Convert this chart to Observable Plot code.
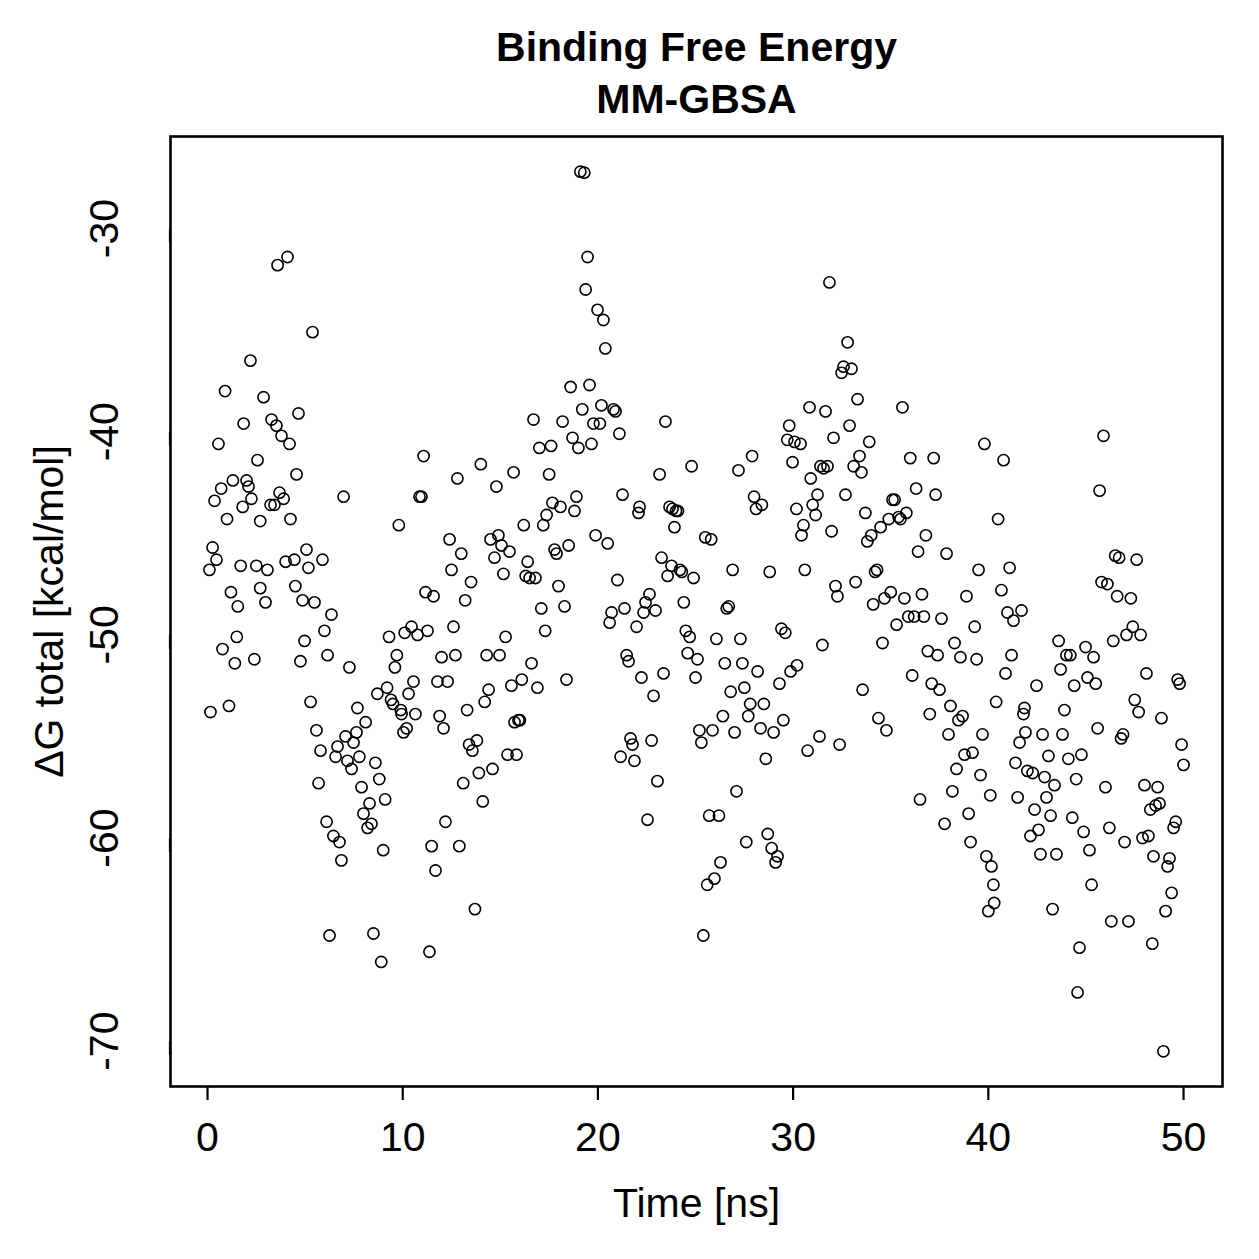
<!DOCTYPE html>
<html>
<head>
<meta charset="utf-8">
<script src="https://cdn.jsdelivr.net/npm/d3@7"></script>
<script src="https://cdn.jsdelivr.net/npm/@observablehq/plot@0.6"></script>
<style>
  html, body { margin: 0; padding: 0; background: #fff; }
  #chart svg { display: block; }
</style>
</head>
<body>
<div id="chart"></div>
<script>
// MM-GBSA binding free energy sampled along the trajectory
const titleLines = ["Binding Free Energy", "MM-GBSA"];
const xLabel = "Time [ns]";
const yLabel = "\u0394G total [kcal/mol]";
const xTicks = [0, 10, 20, 30, 40, 50];
const yTicks = [-30, -40, -50, -60, -70];

// simulation time (ns)
const time = [
  0.1, 0.26, 0.15, 0.36, 0.46, 0.56, 0.7, 0.77, 0.9, 1.0, 1.1, 1.2, 1.3, 1.4, 1.5, 1.55, 1.7, 1.8, 1.85, 2.0,
  2.1, 2.2, 2.25, 2.4, 2.5, 2.56, 2.7, 2.7, 2.87, 2.97, 3.07, 3.23, 3.28, 3.43, 3.53, 3.59, 3.69, 3.79, 3.9, 4.1,
  4.0, 4.2, 4.25, 4.45, 4.5, 4.56, 4.66, 4.76, 4.87, 4.97, 5.07, 5.17, 5.28, 5.38, 5.48, 5.58, 5.69, 5.79, 5.89, 5.99,
  6.1, 6.15, 6.25, 6.35, 6.45, 6.56, 6.66, 6.76, 6.86, 6.97, 7.07, 7.17, 7.27, 7.38, 7.48, 7.63, 7.68, 7.78, 7.89, 7.99,
  8.1, 8.2, 8.3, 8.4, 8.5, 8.6, 8.7, 8.8, 8.9, 9.0, 9.1, 9.2, 9.3, 9.4, 9.5, 9.6, 9.7, 9.8, 9.9, 9.94,
  10.04, 10.1, 10.2, 10.3, 10.45, 10.55, 10.65, 10.76, 10.86, 10.96, 11.07, 11.17, 11.27, 11.37, 11.48, 11.58, 11.68, 11.78, 11.89, 11.99,
  12.09, 12.19, 12.3, 12.4, 12.5, 12.6, 12.7, 12.8, 12.9, 13.0, 13.1, 13.2, 13.3, 13.4, 13.5, 13.57, 13.7, 13.8, 13.9, 14.0,
  14.1, 14.2, 14.3, 14.4, 14.5, 14.6, 14.7, 14.8, 14.9, 14.96, 15.06, 15.16, 15.27, 15.37, 15.47, 15.57, 15.68, 15.73, 15.83, 15.93,
  16.0, 16.1, 16.2, 16.3, 16.4, 16.5, 16.6, 16.7, 16.8, 16.9, 17.0, 17.1, 17.2, 17.3, 17.37, 17.5, 17.6, 17.67, 17.78, 17.88,
  17.98, 18.08, 18.19, 18.29, 18.39, 18.5, 18.6, 18.7, 18.8, 18.9, 19.0, 19.1, 19.2, 19.3, 19.37, 19.47, 19.57, 19.67, 19.77, 19.88,
  19.98, 20.1, 20.18, 20.28, 20.38, 20.5, 20.6, 20.7, 20.8, 20.9, 21.0, 21.1, 21.16, 21.26, 21.36, 21.47, 21.57, 21.67, 21.77, 21.87,
  21.98, 22.08, 22.13, 22.23, 22.34, 22.44, 22.54, 22.64, 22.75, 22.85, 22.95, 23.05, 23.16, 23.26, 23.36, 23.46, 23.57, 23.67, 23.77, 23.82,
  23.92, 24.0, 24.1, 24.2, 24.3, 24.4, 24.5, 24.6, 24.7, 24.8, 24.9, 25.0, 25.1, 25.2, 25.3, 25.4, 25.5, 25.6, 25.7, 25.8,
  25.87, 25.97, 26.07, 26.2, 26.28, 26.4, 26.5, 26.6, 26.7, 26.8, 26.9, 27.0, 27.1, 27.2, 27.3, 27.4, 27.5, 27.6, 27.7, 27.8,
  27.9, 28.0, 28.1, 28.18, 28.33, 28.4, 28.5, 28.6, 28.7, 28.8, 28.9, 29.0, 29.1, 29.2, 29.3, 29.4, 29.5, 29.6, 29.7, 29.8,
  29.87, 29.97, 30.07, 30.17, 30.2, 30.38, 30.43, 30.53, 30.6, 30.74, 30.84, 30.9, 31.0, 31.15, 31.25, 31.35, 31.4, 31.5, 31.56, 31.66,
  31.76, 31.86, 31.97, 32.07, 32.17, 32.27, 32.38, 32.48, 32.58, 32.68, 32.79, 32.89, 32.99, 33.1, 33.2, 33.3, 33.4, 33.5, 33.56, 33.7,
  33.8, 33.9, 34.0, 34.1, 34.2, 34.3, 34.37, 34.48, 34.58, 34.68, 34.78, 34.9, 35.0, 35.09, 35.2, 35.3, 35.4, 35.5, 35.6, 35.7,
  35.8, 35.9, 36.0, 36.1, 36.2, 36.3, 36.4, 36.5, 36.6, 36.7, 36.8, 36.9, 37.0, 37.1, 37.2, 37.3, 37.4, 37.5, 37.6, 37.76,
  37.86, 37.96, 38.06, 38.16, 38.27, 38.37, 38.47, 38.57, 38.68, 38.78, 38.88, 38.99, 39.09, 39.19, 39.3, 39.4, 39.5, 39.6, 39.7, 39.8,
  39.9, 40.0, 40.1, 40.16, 40.26, 40.3, 40.4, 40.5, 40.67, 40.78, 40.88, 40.98, 41.09, 41.19, 41.29, 41.39, 41.5, 41.6, 41.7, 41.8,
  41.85, 41.9, 42.0, 42.16, 42.27, 42.37, 42.47, 42.57, 42.67, 42.78, 42.88, 42.98, 43.08, 43.19, 43.29, 43.39, 43.49, 43.6, 43.7, 43.8,
  43.9, 44.0, 44.1, 44.2, 44.3, 44.4, 44.5, 44.57, 44.67, 44.77, 44.88, 44.98, 45.08, 45.18, 45.29, 45.39, 45.5, 45.6, 45.7, 45.8,
  45.9, 46.0, 46.1, 46.2, 46.3, 46.4, 46.5, 46.6, 46.7, 46.8, 46.9, 46.98, 47.08, 47.18, 47.3, 47.4, 47.5, 47.6, 47.7, 47.8,
  47.9, 48.0, 48.1, 48.2, 48.3, 48.4, 48.46, 48.57, 48.67, 48.77, 48.87, 48.97, 49.08, 49.18, 49.28, 49.39, 49.49, 49.6, 49.7, 49.8,
  49.9, 50.0
];

// total binding free energy (kcal/mol)
const deltaG = [
  -46.8, -45.7, -53.8, -43.4, -46.3, -40.6, -42.8, -50.7, -38.0, -44.3, -53.5, -47.9, -42.4, -51.4, -50.1, -48.6, -46.6, -43.7, -39.6, -42.4,
  -42.7, -36.5, -43.3, -51.2, -46.6, -41.4, -44.4, -47.7, -38.3, -48.4, -46.8, -43.6, -39.4, -43.6, -39.7, -31.8, -43.0, -40.2, -43.3, -31.4,
  -46.4, -40.6, -44.3, -46.3, -47.6, -42.1, -39.1, -51.3, -48.3, -50.3, -45.8, -46.7, -53.3, -35.1, -48.4, -54.7, -57.3, -55.7, -46.3, -49.8,
  -59.2, -51.0, -64.8, -49.0, -59.9, -56.0, -55.5, -60.2, -61.1, -43.2, -55.0, -56.2, -51.6, -56.6, -55.3, -54.8, -53.6, -56.0, -57.5, -58.8,
  -54.3, -59.5, -58.3, -59.3, -64.7, -56.3, -52.9, -57.1, -66.1, -60.6, -58.1, -52.6, -50.1, -53.2, -53.4, -51.6, -51.0, -44.6, -53.7, -53.9,
  -54.8, -49.9, -54.6, -52.9, -49.6, -52.3, -53.9, -50.0, -43.2, -43.2, -41.2, -47.9, -49.8, -65.6, -60.4, -48.1, -61.6, -52.3, -54.0, -51.1,
  -54.6, -59.2, -52.3, -45.3, -46.8, -49.6, -51.0, -42.3, -60.4, -46.0, -57.3, -48.3, -53.7, -55.4, -47.4, -55.7, -63.5, -55.2, -56.8, -41.6,
  -58.2, -53.3, -51.0, -52.7, -45.3, -56.6, -46.2, -42.7, -45.1, -51.0, -45.6, -47.0, -50.1, -55.9, -45.9, -52.5, -42.0, -54.3, -55.9, -54.2,
  -54.2, -52.2, -44.6, -47.1, -46.4, -47.2, -51.4, -39.4, -47.2, -52.6, -40.8, -48.7, -44.6, -49.8, -44.1, -42.1, -40.7, -43.5, -45.8, -46.0,
  -47.6, -43.7, -39.5, -48.6, -52.2, -45.6, -37.8, -40.3, -43.9, -43.2, -40.8, -27.2, -38.9, -27.25, -33.0, -31.4, -37.7, -40.6, -39.6, -45.1,
  -34.0, -39.6, -38.7, -34.5, -35.9, -45.5, -49.4, -48.9, -38.9, -39.0, -47.3, -40.1, -56.0, -43.1, -48.7, -51.0, -51.3, -55.1, -55.4, -56.2,
  -49.6, -44.0, -43.7, -52.1, -48.9, -48.4, -59.1, -48.0, -55.2, -53.0, -48.8, -57.2, -42.1, -46.2, -51.9, -39.5, -47.1, -43.7, -46.6, -43.8,
  -44.7, -43.9, -43.9, -46.8, -46.9, -48.4, -49.8, -50.9, -50.1, -41.7, -47.2, -52.1, -51.2, -54.7, -55.3, -64.8, -45.2, -62.3, -58.9, -45.3,
  -54.7, -62.0, -50.2, -58.9, -61.2, -54.0, -51.4, -48.7, -48.6, -52.8, -46.8, -54.8, -57.7, -41.9, -50.2, -51.4, -52.6, -60.2, -54.0, -53.4,
  -41.2, -43.2, -43.8, -51.8, -54.6, -43.6, -53.4, -56.1, -59.8, -46.9, -60.5, -54.8, -61.2, -60.9, -52.4, -49.7, -54.2, -49.9, -40.4, -39.7,
  -51.8, -41.5, -40.5, -43.8, -51.5, -40.6, -45.1, -44.6, -46.8, -55.7, -38.8, -42.3, -43.6, -44.1, -43.1, -55.0, -41.7, -50.5, -41.8, -39.0,
  -41.7, -32.65, -44.9, -40.3, -47.6, -48.1, -55.4, -37.1, -36.8, -43.1, -35.6, -39.7, -36.9, -41.7, -47.4, -38.4, -41.2, -42.0, -52.7, -44.0,
  -45.4, -40.5, -45.1, -48.5, -46.9, -46.8, -54.1, -44.7, -50.4, -48.2, -54.7, -44.3, -47.9, -43.35, -43.35, -49.5, -44.2, -44.3, -38.8, -48.2,
  -44.0, -49.1, -41.3, -52.0, -49.1, -42.8, -45.9, -58.1, -48.0, -49.1, -45.1, -50.8, -53.9, -52.4, -41.3, -43.1, -51.0, -52.7, -49.2, -59.3,
  -46.0, -54.9, -53.5, -57.7, -50.4, -56.6, -54.2, -51.1, -54.0, -55.9, -48.1, -58.8, -60.2, -55.8, -49.6, -51.2, -46.8, -56.9, -54.9, -40.6,
  -60.9, -63.6, -57.9, -61.4, -62.3, -63.2, -53.3, -44.3, -47.8, -41.4, -51.9, -48.9, -46.7, -51.0, -49.3, -56.3, -58.0, -55.3, -48.8, -53.9,
  -53.6, -54.8, -56.7, -59.9, -56.8, -58.6, -52.5, -59.6, -60.8, -54.9, -57.0, -58.0, -55.96, -58.9, -63.5, -57.4, -60.8, -50.3, -51.7, -54.9,
  -53.7, -51.0, -56.1, -51.0, -59.0, -52.5, -57.1, -67.6, -65.4, -55.9, -59.7, -50.6, -52.1, -60.6, -62.3, -51.1, -52.4, -54.6, -42.9, -47.4,
  -40.2, -57.5, -47.5, -59.5, -64.1, -50.3, -46.1, -48.1, -46.2, -55.1, -54.9, -60.2, -50.0, -64.1, -48.2, -49.6, -53.2, -46.3, -53.8, -50.0,
  -60.0, -57.4, -51.9, -59.9, -58.6, -65.2, -60.9, -58.4, -57.5, -58.3, -54.1, -70.5, -63.6, -61.4, -61.0, -62.7, -59.5, -59.2, -52.2, -52.4,
  -55.4, -56.4
];

const data = time.map((t, i) => ({time: t, dg: deltaG[i]}));

// padded data range (4% on each side), the classic base-graphics convention
const pad = ([lo, hi]) => { const d = (hi - lo) * 0.04; return [lo - d, hi + d]; };
const xDomain = pad(d3.extent(time));
const yDomain = pad(d3.extent(deltaG));

const font = "'Liberation Sans', Arial, Helvetica, sans-serif";
const fs = 41;
const plain = (d) => String(d); // hyphen-minus for negative ticks

const chart = Plot.plot({
  width: 1259,
  height: 1259,
  marginLeft: 170,
  marginRight: 37,
  marginTop: 136,
  marginBottom: 173,
  style: {fontFamily: font, color: "#000", background: "#fff"},
  x: {domain: xDomain},
  y: {domain: yDomain},
  marks: [
    Plot.frame({stroke: "#000", strokeWidth: 2.6}),
    Plot.axisX({
      ticks: xTicks, tickSize: 14, tickPadding: 21, tickFormat: plain,
      fontSize: fs, strokeWidth: 2.2,
      label: xLabel, labelAnchor: "center", labelArrow: "none", labelOffset: 130
    }),
    Plot.axisY({
      ticks: yTicks, tickSize: 14, tickPadding: 52, tickFormat: plain,
      fontSize: fs, strokeWidth: 2.2, rotate: -90, textAnchor: "middle",
      label: yLabel, labelAnchor: "center", labelArrow: "none", labelOffset: 137
    }),
    Plot.dot(data, {x: "time", y: "dg", r: 5.6, stroke: "#000", strokeWidth: 1.6, fill: "none"}),
    Plot.text([titleLines[0]], {frameAnchor: "top", dy: -105, fontSize: fs, fontWeight: "bold", fill: "#000"}),
    Plot.text([titleLines[1]], {frameAnchor: "top", dy: -53, fontSize: fs, fontWeight: "bold", fill: "#000"})
  ]
});

document.getElementById("chart").appendChild(chart);
</script>
</body>
</html>
